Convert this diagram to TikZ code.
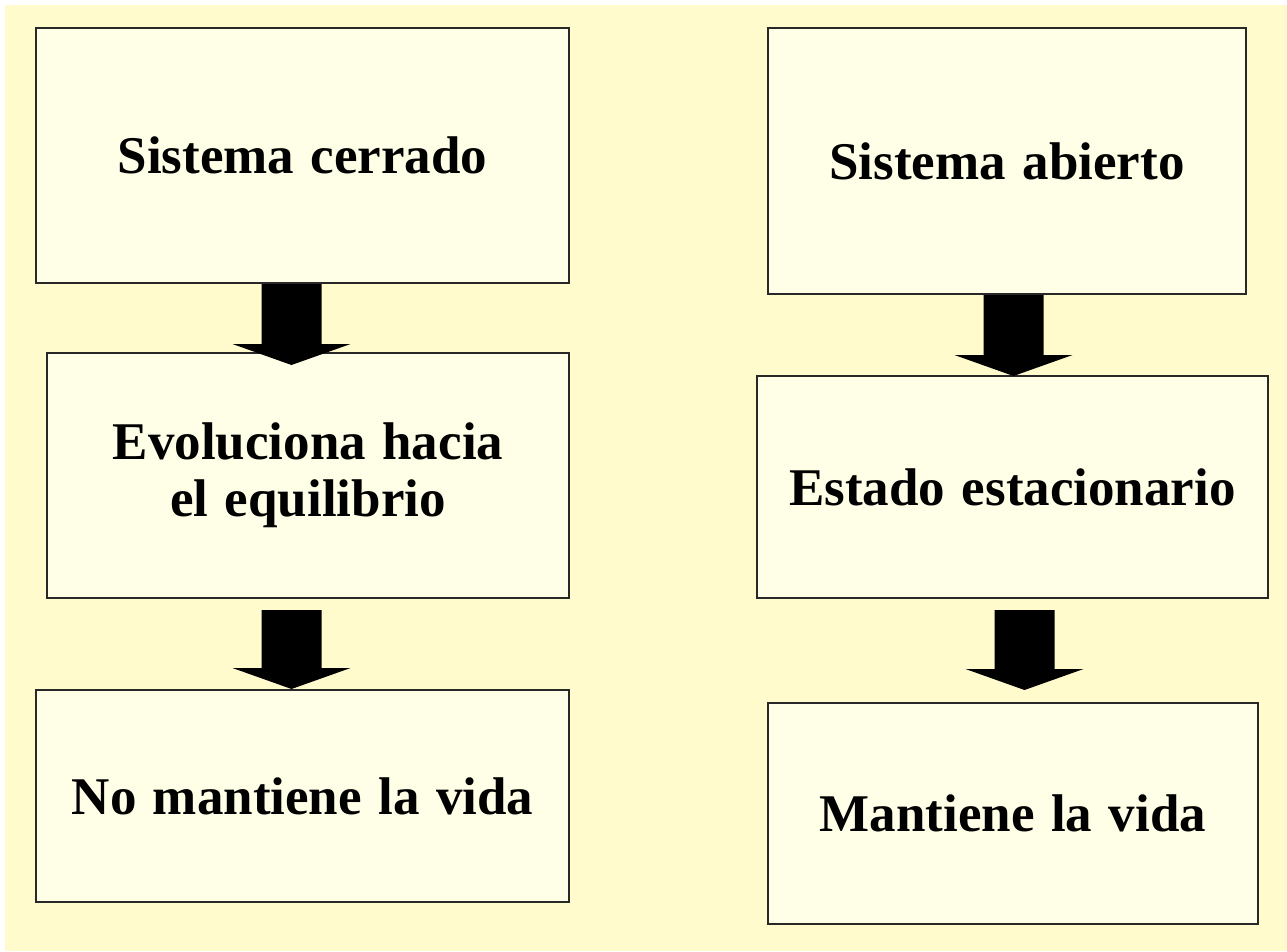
\documentclass[tikz,border=0pt]{standalone}
\usepackage{fontspec}
\setmainfont[WordSpace=1.24]{Liberation Serif}
\usetikzlibrary{calc}
\definecolor{bgyellow}{RGB}{255,251,205}
\definecolor{boxfill}{RGB}{255,255,232}
\definecolor{edge}{RGB}{40,40,40}
\tikzset{
  box/.style={draw=edge, line width=2pt, fill=boxfill, rectangle, anchor=north west,
    inner sep=0pt, align=center, font=\bfseries\fontsize{53}{57}\selectfont},
  blockarrow/.style={fill=black}
}
\newcommand\blockarr[2]{%
  \fill[blockarrow] let \p1=(#1), \p2=(#2) in
    (\x1-30pt,\y1) -- (\x1+30pt,\y1) -- (\x1+30pt,\y2+21pt) -- (\x1+59pt,\y2+21pt)
    -- (\x1,\y2) -- (\x1-59pt,\y2+21pt) -- (\x1-30pt,\y2+21pt) -- cycle;}
\begin{document}
\begin{tikzpicture}[x=1pt,y=-1pt]
\useasboundingbox (0,0) rectangle (1287,951);
\fill[white] (0,0) rectangle (1287,951);
\fill[bgyellow] (5,5) rectangle (1287,951);
% left column
\node[box, minimum width=533pt, minimum height=255pt] (b1) at (35,27) {Sistema cerrado};
\node[box, minimum width=522pt, minimum height=245pt] (b2) at (46,352) {Evoluciona hacia\\el equilibrio};
\node[box, minimum width=533pt, minimum height=212pt] (b3) at (35,689) {No mantiene la vida};
% right column
\node[box, minimum width=478pt, minimum height=266pt] (b4) at (767,27) {Sistema abierto};
\node[box, minimum width=511pt, minimum height=222pt] (b5) at (756,375) {Estado estacionario};
\node[box, minimum width=490pt, minimum height=221pt] (b6) at (767,702) {Mantiene la vida};
% arrow anchors
\coordinate (t1) at ([xshift=-11pt]b1.south);
\coordinate (h1) at ([yshift=-13pt]b2.north);
\coordinate (t2) at ([xshift=-16.5pt,yshift=-11pt]b2.south);
\coordinate (h2) at (b3.north);
\coordinate (t3) at ([xshift=6.5pt]b4.south);
\coordinate (h3) at ([yshift=-1pt]b5.north);
\coordinate (t4) at ([xshift=12pt,yshift=-11pt]b5.south);
\coordinate (h4) at ([yshift=12pt]b6.north);
\blockarr{t1}{h1}
\blockarr{t2}{h2}
\blockarr{t3}{h3}
\blockarr{t4}{h4}
\end{tikzpicture}
\end{document}
